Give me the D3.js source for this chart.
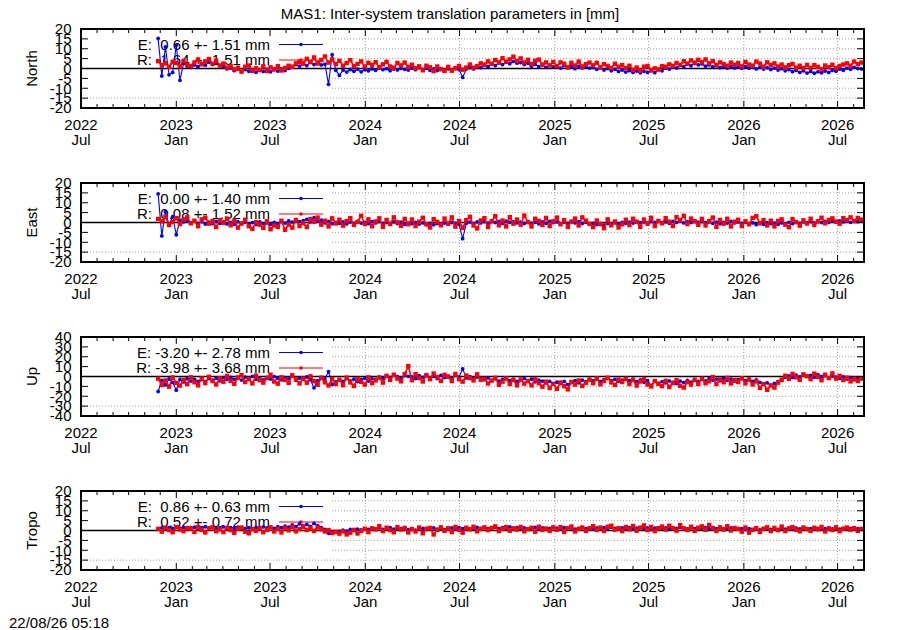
<!DOCTYPE html>
<html>
<head>
<meta charset="utf-8">
<script src="https://cdn.jsdelivr.net/npm/d3@7"></script>
<style>
  body { margin: 0; background: #fff; }
  text { font-family: "Liberation Sans", Arial, sans-serif; font-size: 15px; fill: #000; }
</style>
</head>
<body>
<div id="chart"></div>
<script>
// observations: one sample per week from the first epoch
var obsStart = Date.UTC(2022, 10, 27);
var obsStepDays = 7;

// North [mm]
var northE = [15.2, -3.8, 11.0, -3.2, -2.0, 11.8, -6.0, 2.5, 1.2, 0.6,
  1.8, 0.9, 2.6, 1.7, 3.2, 2.0, 3.1, 1.5, 1.0, -0.2,
  0.2, -1.1, -0.3, -1.6, -0.5, -1.4, -0.6, -1.9, -0.7, -1.5,
  -0.4, -1.7, -0.6, -1.3, -0.2, -1.0, 0.1, 1.1, 2.0, 1.2,
  2.7, 1.5, 3.4, 2.0, 3.1, 1.8, 2.2, -8.0, 7.0, -0.9,
  -3.5, -0.8, -1.8, -0.5, -1.4, -0.3, -1.7, -0.6, -1.2, -0.2,
  -0.9, 0.2, -0.6, -0.1, -1.1, -0.3, -0.7, 0.1, -0.4, -0.8,
  0.2, -0.6, 0.4, -0.4, 0.1, -0.9, -0.2, -1.0, -0.3, -0.7,
  -0.2, -0.8, -0.1, -0.5, -4.5, -0.3, 0.5, -0.2, 1.0, 0.4,
  1.6, 0.9, 2.4, 1.5, 2.8, 2.0, 3.3, 2.4, 3.6, 2.7,
  3.0, 2.0, 2.6, 1.2, 2.1, 0.9, 1.8, 0.6, 1.5, 0.8,
  1.3, 0.2, 1.5, 0.4, 1.0, -0.1, 1.2, 0.3, 0.9, 0.2,
  0.6, -0.4, 0.3, -0.8, 0.0, -1.2, -0.4, -1.5, -0.8, -1.8,
  -1.1, -2.0, -1.3, -2.2, -1.4, -1.9, -1.2, -2.1, -0.6, -1.2,
  0.2, -0.3, 0.8, 0.3, 1.6, 0.9, 2.2, 1.4, 2.5, 1.8,
  2.3, 1.2, 1.8, 0.8, 1.4, 0.4, 1.1, 0.2, 0.9, 0.3,
  0.8, 0.1, 1.0, 0.2, 0.7, -0.2, 0.6, -0.3, 0.4, -0.5,
  0.2, -0.8, -0.1, -1.2, -0.5, -1.6, -0.9, -2.0, -1.2, -2.3,
  -1.5, -2.4, -1.7, -2.2, -1.3, -2.0, -0.9, -1.4, -0.3, -0.9,
  0.2, -0.4, 0.6, 0.0, -0.2];
var northR = [3.7, 1.7, 2.6, 0.8, 3.4, 2.8, 1.1, 3.9, 1.9, 1.3,
  3.0, 4.5, 2.1, 3.6, 4.8, 2.4, 4.0, 1.5, 2.5, 0.4,
  1.3, -0.5, 0.4, -1.6, 0.9, 1.5, -1.2, 0.2, -0.8, 1.1,
  -1.3, 0.6, -0.4, 1.2, -1.0, 0.3, 1.4, 0.8, 2.6, 3.4,
  2.4, 4.9, 3.2, 5.6, 2.5, 4.3, 6.1, 3.0, 4.6, 2.2,
  3.9, 1.4, 2.8, 4.2, 1.2, 2.3, 3.6, 1.0, 2.9, 1.8,
  3.2, 0.7, 2.1, 3.4, 1.0, 0.4, 2.8, 1.6, 3.0, 0.8,
  1.9, 0.1, 1.1, -0.9, 1.4, 0.6, -1.3, 1.0, -0.4, -1.2,
  0.8, -1.1, 0.2, 1.3, -0.6, 0.5, 2.0, 0.4, 1.2, 2.6,
  2.0, 3.6, 2.4, 4.3, 3.1, 5.2, 3.5, 4.6, 6.0, 3.8,
  5.1, 3.0, 4.4, 2.2, 3.9, 4.5, 2.0, 3.1, 1.6, 3.3,
  1.2, 3.1, 2.4, 0.6, 2.9, 1.5, 3.5, 1.0, 2.2, 3.0,
  1.6, 2.9, 0.7, 2.2, 1.3, 0.3, 2.4, 0.9, 1.7, 0.2,
  1.4, -0.7, 0.5, -1.2, 0.9, 1.3, -0.9, 0.1, -0.5, 1.2,
  0.9, 2.1, 1.3, 2.8, 1.8, 3.7, 2.5, 4.1, 3.0, 4.4,
  3.2, 4.6, 2.6, 3.7, 1.8, 3.1, 2.2, 1.4, 3.0, 1.9,
  2.8, 1.1, 3.3, 2.0, 1.4, 3.5, 2.5, 0.9, 3.1, 1.8,
  2.6, 1.0, 2.0, 0.6, 1.7, 2.3, 0.4, 1.4, 0.2, 1.8,
  0.3, 1.7, 0.8, -0.4, 1.5, 0.6, 1.9, 0.2, 1.3, 2.0,
  2.6, 1.4, 3.5, 2.2, 3.0];

// East [mm]
var eastE = [14.5, -6.8, 5.5, -1.5, 3.0, -6.2, 1.2, 0.3, 0.8, -0.2,
  0.6, -0.5, 0.4, -0.8, 0.2, -0.6, 0.5, -0.4, 0.3, -0.7,
  0.1, -0.9, 0.4, -0.5, 0.2, -0.8, -0.1, -1.0, 0.3, -0.6,
  -0.2, -0.9, 0.1, -0.6, 0.5, -0.3, 0.8, 0.2, 1.1, 0.4,
  0.9, 1.6, 0.3, 2.4, 0.6, 1.2, -0.2, 0.5, -0.6, 0.1,
  -0.4, 0.3, -0.7, 0.2, -0.5, 0.6, -0.3, 0.1, -0.6, 0.4,
  -0.2, 0.5, -0.4, 0.0, -0.8, 0.3, -0.5, 0.2, -0.9, -0.3,
  -0.6, 0.1, -0.8, -0.2, -1.0, -0.4, -1.2, -0.5, -0.9, -0.3,
  -0.7, 0.0, -0.5, -0.9, -8.2, -0.4, 0.2, -0.6, 0.3, -0.2,
  0.4, -0.3, 0.6, 0.0, 0.5, -0.4, 0.7, 0.1, 0.3, -0.2,
  0.2, -0.5, 0.4, -0.3, 0.1, -0.7, 0.3, -0.4, 0.5, -0.1,
  0.3, -0.6, 0.2, -0.4, 0.6, -0.2, 0.4, -0.5, 0.1, -0.8,
  -0.4, -1.0, -0.6, -1.3, -0.5, -0.9, -0.2, -0.7, 0.1, -0.4,
  0.2, -0.3, 0.5, -0.1, 0.3, -0.5, 0.4, 0.0, 0.6, -0.2,
  0.3, -0.4, 0.5, 0.1, 0.7, -0.2, 0.4, 0.0, 0.6, 0.2,
  0.4, -0.1, 0.3, -0.4, 0.2, -0.6, 0.1, -0.3, 0.5, -0.2,
  0.3, -0.5, 0.1, -0.8, -0.2, -1.1, -0.4, -0.9, -0.1, -0.6,
  -0.3, -0.9, -0.2, -0.7, 0.1, -0.5, 0.2, -0.4, 0.3, -0.1,
  0.4, -0.2, 0.5, 0.0, 0.6, 0.1, 0.7, 0.2, 0.8, 0.3,
  0.6, 0.1, 0.9, 0.4, 0.7];
var eastR = [1.8, 0.6, 2.9, -1.2, 0.3, 2.2, -0.8, 1.5, 2.6, -0.4,
  0.9, -1.9, 1.6, 2.4, -0.6, 0.7, -2.3, 1.2, -0.2, 1.9,
  -1.4, 0.8, -2.6, -0.5, 1.4, -1.9, -3.2, 0.2, -1.1, -2.7,
  0.6, -3.4, -1.5, -2.2, 0.9, -3.7, -1.0, -2.6, 1.3, -1.8,
  -0.3, -2.3, 1.7, 0.4, 2.5, -1.1, 0.9, -2.0, 2.1, -0.5,
  1.4, -1.6, 0.7, 2.2, -1.2, 0.3, 3.4, -0.8, 1.6, -1.9,
  0.5, 2.1, -2.2, 1.3, -0.7, 2.6, 0.1, -1.7, 1.8, -0.9,
  1.5, -1.8, 0.4, 2.4, -0.9, -2.5, 1.7, 0.3, -1.4, 2.0,
  -0.6, 2.6, -2.1, 0.8, -2.7, 1.2, 2.9, -1.5, -3.0, 1.0,
  2.2, -2.3, 0.6, 3.2, -1.4, 1.0, -2.0, 2.7, -0.6, 1.5,
  -1.1, 3.5, 0.2, -2.0, 1.9, 0.8, -1.2, 2.3, -1.8, 0.6,
  2.5, -0.9, 1.2, -2.2, 0.4, 2.0, -1.5, 2.6, 0.9, -0.7,
  -2.3, 1.0, -0.8, -2.9, 1.6, -1.4, 0.5, -2.5, -0.9, 1.4,
  -1.3, 1.9, 0.3, -2.2, 1.5, -0.6, 2.4, -1.8, 0.8, -0.4,
  2.2, 0.4, -1.8, 2.7, 1.1, 3.4, -0.8, 2.0, 0.6, -1.2,
  1.8, -1.5, 0.7, 2.5, -2.2, 1.3, -0.6, 1.9, -2.0, 0.4,
  1.4, -1.8, 0.6, -0.9, 2.3, 3.2, -0.4, 1.2, -1.5, 0.9,
  -2.0, 0.8, 1.6, -1.1, -2.4, 1.7, 0.2, -1.6, 1.1, -0.5,
  1.9, -1.2, 0.6, 2.4, -0.4, 1.3, 2.1, 0.5, -0.6, 2.2,
  1.2, 2.6, 0.7, 2.3, 1.5];

// Up [mm]
var upE = [-15.2, -4.0, -8.5, -2.5, -6.0, -13.8, -3.0, -5.5, -2.2, -4.6,
  -2.8, -4.9, -3.1, -5.2, -2.0, -3.8, -1.6, -4.3, -1.2, -3.0,
  -0.8, -2.9, -1.5, -3.6, -0.6, -2.5, 0.2, -2.8, -1.4, -3.5,
  -1.0, -2.6, -0.2, -1.9, -3.4, -1.1, -2.4, 0.8, -3.8, -1.6,
  -2.9, -0.5, -3.3, -11.5, -4.2, -1.0, -2.4, 5.0, -8.0, -5.4,
  -3.1, -5.0, -2.0, -4.4, -2.8, -5.1, -3.0, -1.8, -4.6, -2.4,
  -3.0, -0.6, -1.9, 0.8, -1.0, 1.5, -0.2, -1.7, 1.0, 0.2,
  -0.4, -2.1, 0.9, -0.8, 1.8, -1.5, 0.3, -2.0, 1.2, -1.1,
  0.3, -1.8, 1.4, -0.6, 7.8, -1.4, -0.1, -2.5, -0.5, -2.0,
  -3.2, -1.4, -4.1, -2.3, -4.8, -2.9, -1.6, -4.2, -2.6, -5.0,
  -3.4, -2.1, -4.5, -2.6, -5.3, -3.7, -4.6, -6.5, -5.0, -7.4,
  -5.8, -7.0, -4.9, -8.2, -6.0, -4.2, -6.4, -3.6, -5.3, -2.9,
  -4.4, -2.5, -5.0, -3.2, -2.0, -4.3, -3.0, -4.8, -3.6, -2.2,
  -4.1, -2.8, -5.2, -3.4, -5.8, -4.3, -9.0, -4.7, -6.9, -5.1,
  -6.4, -4.5, -5.9, -7.1, -4.6, -6.2, -4.0, -5.7, -3.7, -5.0,
  -3.0, -4.5, -2.1, -3.6, -2.6, -4.4, -1.8, -3.8, -2.8, -4.6,
  -3.2, -2.1, -4.1, -2.7, -4.9, -3.5, -6.0, -7.7, -6.4, -9.0,
  -7.0, -5.3, -2.9, -0.8, 0.6, -1.0, 1.3, -0.3, 1.7, 0.2,
  1.1, -0.8, 2.0, 0.1, 0.9, -1.4, 0.5, -0.6, -1.9, -0.4,
  -2.6, -1.2, -3.3, -1.8, -2.4];
var upR = [-2.2, -8.6, -4.0, -10.3, -1.0, -6.5, -9.2, -3.4, -7.8, -0.8,
  -5.8, -9.0, -2.0, -6.7, -0.3, -4.6, -8.1, -1.8, -5.3, 0.6,
  -4.5, -7.4, -1.0, 1.4, -5.6, -2.6, -7.0, 0.9, -3.8, -6.2,
  -1.6, 1.8, -5.1, -7.2, -0.8, -3.5, -6.4, 1.2, -2.9, -7.0,
  -2.0, -6.3, 0.2, -4.8, -8.4, -1.4, -5.9, -9.1, -2.6, -7.6,
  -3.2, -8.8, -1.1, -6.0, -9.6, -2.5, -5.4, -8.2, -0.9, -6.7,
  -4.0, -1.2, -6.2, 0.7, -3.5, 1.8, -2.2, -4.9, 2.4, 10.5,
  -3.8, 2.4, -1.5, -5.0, 1.2, -2.7, 3.0, -0.6, -4.5, 1.7,
  -0.2, -4.6, 2.6, -2.8, -5.2, 1.0, -1.6, -4.0, 2.2, -3.3,
  -2.4, -7.0, -4.1, -1.3, -8.4, -5.2, -2.0, -7.6, -3.6, -9.0,
  -3.0, -7.2, -4.6, -9.0, -2.8, -6.8, -10.3, -5.2, -11.6, -7.4,
  -12.5, -6.0, -9.8, -13.0, -5.5, -8.2, -4.0, -9.5, -6.3, -3.2,
  -6.8, -2.0, -7.9, -4.4, -1.2, -6.0, -8.5, -3.1, -5.6, -2.4,
  -7.6, -3.5, -9.2, -5.0, -2.8, -8.1, -10.0, -4.6, -7.4, -9.8,
  -4.4, -10.6, -6.5, -3.8, -9.4, -11.2, -5.6, -8.2, -3.2, -7.6,
  -2.2, -6.8, -4.9, -0.6, -7.5, -3.0, -5.8, -1.4, -7.0, -3.6,
  -5.6, -1.8, -6.9, -3.2, -8.0, -4.8, -11.5, -7.6, -13.4, -9.0,
  -11.2, -6.2, -3.5, 0.8, -2.4, 2.6, -0.8, -3.4, 2.2, 0.3,
  -2.6, 2.9, -0.4, -3.8, 1.8, -1.6, 3.2, -2.2, 0.6, -3.6,
  -1.2, -5.0, -2.4, -4.6, -1.8];

// Tropo [mm]
var tropoE = [0.9, 1.3, 0.7, 1.5, 1.1, 1.8, 1.2, 1.6, 0.9, 1.4,
  1.7, 1.1, 1.5, 1.9, 1.3, 1.6, 1.0, 1.4, 1.8, 1.2,
  1.5, 1.1, 1.7, 1.3, 0.9, 1.4, 1.0, 1.6, 1.2, 1.8,
  1.3, 1.6, 1.1, 1.9, 1.4, 2.2, 1.7, 2.8, 1.9, 3.4,
  2.3, 3.1, 2.0, 3.6, 2.4, 1.5, 0.6, -1.4, -0.6, -0.9,
  -0.4, 0.2, -0.3, 0.5, 0.1, 0.7, 0.3, 0.9, 0.5, 1.1,
  0.8, 1.4, 0.6, 1.0, 1.5, 0.7, 1.2, 0.9, 1.6, 0.4,
  0.8, 0.2, 0.7, 1.1, 0.5, 0.9, 1.3, 0.6, 1.0, 0.4,
  0.9, 1.3, 0.7, 1.5, 1.0, 1.4, 0.8, 1.2, 1.6, 1.1,
  1.4, 0.9, 1.3, 1.7, 1.0, 1.5, 1.2, 1.8, 1.1, 1.4,
  1.0, 1.3, 0.8, 1.2, 1.6, 0.9, 1.3, 0.7, 1.1, 1.5,
  1.2, 0.8, 1.4, 1.0, 1.3, 0.7, 1.1, 1.5, 0.9, 1.2,
  0.8, 1.3, 0.9, 1.4, 1.0, 1.6, 1.1, 0.8, 1.3, 1.0,
  1.4, 0.9, 1.2, 1.6, 1.1, 1.3, 0.8, 1.2, 1.5, 1.0,
  1.3, 0.9, 1.4, 1.1, 1.6, 1.2, 0.8, 1.3, 1.0, 1.4,
  1.1, 1.5, 0.9, 1.2, 1.0, 1.4, 0.8, 1.1, 1.3, 0.9,
  0.7, 1.0, 0.5, 0.9, 0.4, 0.8, 0.3, 0.7, 1.0, 0.6,
  0.9, 0.5, 1.1, 0.7, 1.0, 0.6, 1.2, 0.8, 1.3, 0.9,
  1.0, 0.6, 1.1, 0.7, 0.9, 1.3, 0.8, 1.2, 0.7, 1.0,
  0.8, 1.1, 0.6, 0.9, 0.7];
var tropoR = [0.8, -0.6, 1.4, 0.2, -0.9, 1.7, 0.5, -0.3, 1.2, 0.9,
  -0.7, 1.8, 0.3, -1.0, 1.1, 1.6, -0.4, 0.6, -0.8, 1.3,
  0.2, -1.2, 0.9, 1.5, -0.6, -1.4, 0.7, -0.2, 1.2, -0.9,
  0.4, 1.6, -0.5, 0.9, -1.0, 1.3, 0.1, 1.8, -0.4, 0.7,
  1.9, 0.3, 1.2, -0.2, 1.6, 0.6, -0.5, 0.2, -1.3, -0.7,
  -1.6, -0.4, -2.0, -1.1, 0.3, -1.5, -0.2, 0.9, -0.8, 1.1,
  0.6, 2.2, -0.3, 1.4, 0.2, -0.9, 1.7, 0.5, 1.2, -1.0,
  0.7, -0.5, 1.5, -1.4, 0.9, 1.3, -2.0, 0.4, 1.6, -0.2,
  1.1, -0.8, 1.8, 0.3, -1.1, 1.4, 0.6, 1.9, -0.4, 0.8,
  1.6, 0.2, 1.3, 2.1, -0.3, 0.9, 1.7, -0.1, 1.1, 0.5,
  1.8, -0.4, 0.7, 1.4, -0.6, 1.9, 0.3, 1.0, -0.2, 1.6,
  0.4, 1.7, -0.7, 1.2, 2.0, -0.5, 0.8, 1.5, -0.2, 1.1,
  2.2, 0.3, 1.5, -0.2, 1.9, 2.4, 0.4, 1.2, -0.3, 1.7,
  0.6, 2.3, -0.1, 1.4, 2.6, 0.2, 1.8, -0.3, 1.1, 2.0,
  0.5, 2.4, 1.2, -0.1, 2.7, 1.0, 0.3, 1.9, -0.2, 1.4,
  2.1, 0.4, 2.8, 1.2, -0.2, 1.6, 0.5, 2.2, 0.0, 1.3,
  0.8, -0.6, 1.5, -1.1, 0.4, 1.2, -0.7, 0.9, 1.6, -0.3,
  1.3, 0.2, 2.0, -0.3, 1.1, 1.7, 0.4, -0.4, 1.5, 0.7,
  -0.2, 1.4, 0.6, 1.8, -0.5, 1.0, 0.3, 1.6, -0.3, 0.9,
  1.5, 0.4, 1.2, -0.2, 0.8];

var panelNames = ["North", "East", "Up", "Tropo"];
var panelLimits = [20, 20, 40, 20];
var panelSteps = [5, 5, 10, 5];
var legendE = ["E:  0.66 +- 1.51 mm", "E:  0.00 +- 1.40 mm", "E: -3.20 +- 2.78 mm", "E:  0.86 +- 0.63 mm"];
var legendR = ["R:  1.64 +- 1.51 mm", "R:  0.08 +- 1.52 mm", "R: -3.98 +- 3.68 mm", "R:  0.52 +- 0.72 mm"];
var seriesE = [northE, eastE, upE, tropoE];
var seriesR = [northR, eastR, upR, tropoR];

var chartTitle = "MAS1: Inter-system translation parameters in [mm]";
var stamp = "22/08/26 05:18";

var W = 900, H = 630;
var left = 81, right = 864;
var panelTop = [29, 183, 337, 491], panelH = 79;
var keyRight = 332;

var svg = d3.select("#chart").append("svg")
  .attr("width", W).attr("height", H);

var x = d3.scaleUtc()
  .domain([new Date(Date.UTC(2022, 6, 1)), new Date(Date.UTC(2026, 7, 21))])
  .range([left, right]);
var majorTicks = d3.utcMonth.every(6).range(new Date(Date.UTC(2022, 6, 1)), x.domain()[1]);
var minorTicks = d3.utcMonth.range(new Date(Date.UTC(2022, 6, 1)), x.domain()[1]);

svg.append("text")
  .attr("x", 450).attr("y", 19)
  .attr("text-anchor", "middle")
  .text(chartTitle);

svg.append("text")
  .attr("x", 9).attr("y", 628)
  .text(stamp);

panelNames.forEach(function(name, p) {
  var top = panelTop[p], bottom = top + panelH;
  var lim = panelLimits[p];
  var y = d3.scaleLinear().domain([-lim, lim]).range([bottom, top]);
  var yTicks = d3.range(-lim, lim + 0.001, panelSteps[p]);
  var keyBottom = top + 0.82 * panelH;

  var g = svg.append("g");

  g.append("clipPath").attr("id", "clip" + p)
    .append("rect")
    .attr("x", left).attr("y", top)
    .attr("width", right - left).attr("height", panelH);

  // grid, hidden behind the key box on the left
  g.selectAll(".hgrid")
    .data(yTicks.filter(function(v) { return v !== 0 && Math.abs(v) !== lim; }))
    .enter().append("line")
    .attr("x1", function(v) { return y(v) < keyBottom ? keyRight : left; })
    .attr("x2", right)
    .attr("y1", function(v) { return y(v); })
    .attr("y2", function(v) { return y(v); })
    .attr("stroke", "#a0a0a0").attr("stroke-width", 1)
    .attr("stroke-dasharray", "1,2");
  g.selectAll(".vgrid")
    .data(majorTicks.filter(function(d) { return x(d) > keyRight && x(d) < right - 1; }))
    .enter().append("line")
    .attr("x1", function(d) { return x(d); })
    .attr("x2", function(d) { return x(d); })
    .attr("y1", top).attr("y2", bottom)
    .attr("stroke", "#a0a0a0").attr("stroke-width", 1)
    .attr("stroke-dasharray", "1,2");

  // zero line
  g.append("line")
    .attr("x1", left).attr("x2", right)
    .attr("y1", y(0)).attr("y2", y(0))
    .attr("stroke", "#000").attr("stroke-width", 1.5);

  // key
  var keyRows = [
    { label: legendE[p], color: "#0000ff", ly: top + 15.5, ty: top + 20.5 },
    { label: legendR[p], color: "#ff0000", ly: top + 31, ty: top + 35.5 }
  ];
  keyRows.forEach(function(k) {
    g.append("text")
      .attr("x", 270).attr("y", k.ty)
      .attr("text-anchor", "end")
      .attr("xml:space", "preserve")
      .style("white-space", "pre")
      .text(k.label);
    g.append("line")
      .attr("x1", 279).attr("x2", 323)
      .attr("y1", k.ly).attr("y2", k.ly)
      .attr("stroke", k.color).attr("stroke-width", 1.2);
    g.append("circle")
      .attr("cx", 301).attr("cy", k.ly).attr("r", 1.8)
      .attr("fill", k.color);
  });

  // data
  var toPts = function(arr) {
    return arr.map(function(v, i) {
      return { date: new Date(obsStart + i * obsStepDays * 864e5), v: v };
    });
  };
  var line = d3.line()
    .x(function(d) { return x(d.date); })
    .y(function(d) { return y(d.v); });
  var plot = g.append("g").attr("clip-path", "url(#clip" + p + ")");

  var ptsE = toPts(seriesE[p]);
  plot.append("path").datum(ptsE)
    .attr("d", line).attr("fill", "none")
    .attr("stroke", "#0000ff").attr("stroke-width", 1.1);
  plot.selectAll(".pe").data(ptsE).enter().append("circle")
    .attr("cx", function(d) { return x(d.date); })
    .attr("cy", function(d) { return y(d.v); })
    .attr("r", 1.9).attr("fill", "#0000ff");

  var ptsR = toPts(seriesR[p]);
  plot.append("path").datum(ptsR)
    .attr("d", line).attr("fill", "none")
    .attr("stroke", "#ff0000").attr("stroke-width", 1.6);
  plot.selectAll(".pr").data(ptsR).enter().append("rect")
    .attr("x", function(d) { return x(d.date) - 2.2; })
    .attr("y", function(d) { return y(d.v) - 2.2; })
    .attr("width", 4.4).attr("height", 4.4)
    .attr("fill", "#ff0000");

  // ticks on all four sides
  g.selectAll(".yt").data(yTicks).enter().append("path")
    .attr("d", function(v) {
      var yy = y(v);
      return "M" + left + "," + yy + "h7M" + right + "," + yy + "h-7";
    })
    .attr("stroke", "#000").attr("stroke-width", 1);
  g.selectAll(".xm").data(minorTicks).enter().append("path")
    .attr("d", function(d) {
      var xx = x(d);
      var len = d.getUTCMonth() % 6 === 0 ? 7 : 4;
      return "M" + xx + "," + bottom + "v-" + len + "M" + xx + "," + top + "v" + len;
    })
    .attr("stroke", "#000").attr("stroke-width", 1);

  // border
  g.append("rect")
    .attr("x", left).attr("y", top)
    .attr("width", right - left).attr("height", panelH)
    .attr("fill", "none").attr("stroke", "#000").attr("stroke-width", 2);

  // y tick labels
  g.selectAll(".yl").data(yTicks).enter().append("text")
    .attr("x", 71.5)
    .attr("y", function(v) { return y(v) + 5.3; })
    .attr("text-anchor", "end")
    .text(function(v) { return v; });

  // x tick labels: year over month
  var xl = g.selectAll(".xl").data(majorTicks).enter().append("g");
  xl.append("text")
    .attr("x", function(d) { return x(d); })
    .attr("y", bottom + 22)
    .attr("text-anchor", "middle")
    .text(d3.utcFormat("%Y"));
  xl.append("text")
    .attr("x", function(d) { return x(d); })
    .attr("y", bottom + 36.5)
    .attr("text-anchor", "middle")
    .text(d3.utcFormat("%b"));

  // axis label
  g.append("text")
    .attr("transform", "translate(37," + (top + panelH / 2) + ") rotate(-90)")
    .attr("text-anchor", "middle")
    .text(name);
});
</script>
</body>
</html>
